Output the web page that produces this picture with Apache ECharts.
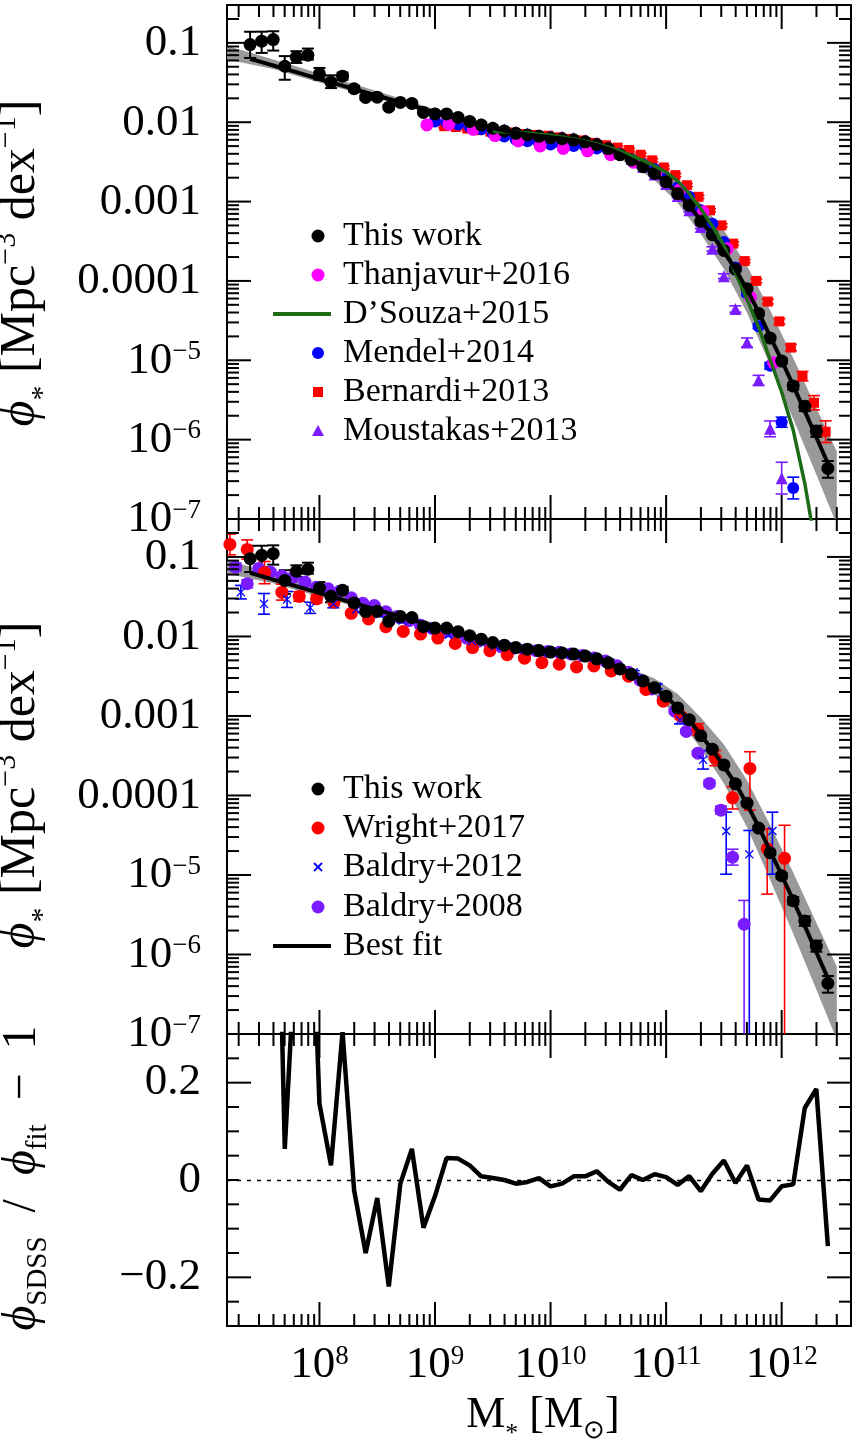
<!DOCTYPE html>
<html><head><meta charset="utf-8">
<script src="https://cdn.jsdelivr.net/npm/echarts@6.0.0/dist/echarts.min.js"></script>
<style>html,body{margin:0;padding:0;background:#fff}#c{width:854px;height:1441px}</style>
</head><body><div id="c"></div>
<script>
// ---------------- DATA (log10 values) ----------------
const binLogM = [7.4,7.5,7.6,7.7,7.8,7.9,8.0,8.1,8.2,8.3,8.4,8.5,8.6,8.7,8.8,8.9,9.0,9.1,9.2,9.3,9.4,9.5,9.6,9.7,9.8,9.9,10.0,10.1,10.2,10.3,10.4,10.5,10.6,10.7,10.8,10.9,11.0,11.1,11.2,11.3,11.4,11.5,11.6,11.7,11.8,11.9,12.0,12.1,12.2,12.3,12.4];
const thisWorkLogPhi = [-1.022,-0.979,-0.959,-1.295,-1.180,-1.155,-1.392,-1.495,-1.420,-1.578,-1.687,-1.684,-1.810,-1.750,-1.763,-1.877,-1.895,-1.895,-1.940,-1.990,-2.034,-2.076,-2.110,-2.140,-2.160,-2.178,-2.196,-2.208,-2.222,-2.247,-2.282,-2.332,-2.409,-2.476,-2.560,-2.645,-2.751,-2.899,-3.047,-3.249,-3.418,-3.616,-3.853,-4.097,-4.410,-4.720,-5.010,-5.325,-5.580,-5.895,-6.363];
const thisWorkErrUp = [0.162,0.120,0.105,0.128,0.075,0.083,0.076,0.086,0.045,0.035,0.030,0.025,0.025,0.020,0.020,0.018,0.015,0.012,0.012,0.012,0.012,0.012,0.012,0.012,0.012,0.012,0.012,0.012,0.012,0.012,0.012,0.012,0.012,0.012,0.012,0.012,0.012,0.012,0.012,0.012,0.012,0.015,0.018,0.020,0.025,0.030,0.035,0.045,0.060,0.070,0.093];
const thisWorkErrDn = [0.168,0.148,0.138,0.170,0.073,0.056,0.073,0.075,0.045,0.035,0.030,0.025,0.025,0.020,0.020,0.018,0.015,0.012,0.012,0.012,0.012,0.012,0.012,0.012,0.012,0.012,0.012,0.012,0.012,0.012,0.012,0.012,0.012,0.012,0.012,0.012,0.012,0.012,0.012,0.012,0.012,0.015,0.018,0.020,0.025,0.030,0.035,0.045,0.060,0.070,0.117];
const fitLogPhi = [-1.200,-1.243,-1.285,-1.327,-1.369,-1.412,-1.455,-1.497,-1.539,-1.581,-1.623,-1.665,-1.707,-1.749,-1.791,-1.833,-1.875,-1.915,-1.955,-1.995,-2.035,-2.072,-2.105,-2.133,-2.156,-2.175,-2.190,-2.205,-2.225,-2.252,-2.288,-2.335,-2.395,-2.470,-2.555,-2.650,-2.754,-2.895,-3.050,-3.239,-3.424,-3.633,-3.850,-4.110,-4.390,-4.700,-5.000,-5.320,-5.640,-5.970,-6.300];
const residual = [0.51,0.82,1.09,0.064,0.51,0.80,0.157,0.030,0.304,-0.021,-0.150,-0.037,-0.219,-0.0075,0.064,-0.098,-0.033,0.045,0.044,0.030,0.0075,0.004,0.0,-0.0075,-0.004,0.004,-0.013,-0.0075,0.0075,0.0075,0.018,-0.004,-0.020,0.010,0.0,0.012,0.006,-0.010,0.008,-0.023,0.013,0.040,-0.006,0.030,-0.040,-0.042,-0.013,-0.009,0.148,0.187,-0.136];

const bandLogM  = [7.2,7.6,8.0,8.5,9.0,9.5,10.0,10.4,10.7,10.9,11.1,11.3,11.5,11.7,11.9,12.1,12.3,12.477];
const bandUpper = [-1.035,-1.21,-1.385,-1.61,-1.835,-2.055,-2.17,-2.25,-2.41,-2.53,-2.725,-3.02,-3.36,-3.81,-4.37,-4.97,-5.60,-6.15];
const bandLower = [-1.21,-1.33,-1.50,-1.70,-1.905,-2.095,-2.22,-2.33,-2.54,-2.73,-3.015,-3.41,-3.85,-4.40,-5.06,-5.74,-6.44,-7.07];

const thanjavurLogM   = [8.93,9.12,9.33,9.52,9.72,9.91,10.11,10.32,10.52,10.72,10.91,11.12,11.32,11.53,11.73,11.93];
const thanjavurLogPhi = [-2.034,-2.025,-2.089,-2.168,-2.237,-2.30,-2.33,-2.36,-2.41,-2.506,-2.646,-2.85,-3.13,-3.595,-4.206,-5.03];

const dsouzaLogM   = [9.5,9.6,9.7,9.8,9.9,10.0,10.1,10.2,10.3,10.4,10.5,10.6,10.7,10.8,10.9,11.0,11.1,11.2,11.3,11.4,11.5,11.6,11.7,11.8,11.9,12.0,12.1,12.2,12.3];
const dsouzaLogPhi = [-2.115,-2.12,-2.125,-2.135,-2.15,-2.165,-2.185,-2.21,-2.24,-2.275,-2.315,-2.36,-2.42,-2.48,-2.55,-2.63,-2.74,-2.9,-3.09,-3.31,-3.55,-3.9,-4.23,-4.58,-4.99,-5.4,-5.88,-6.55,-7.4];

const mendelLogM   = [9.0,9.1,9.2,9.3,9.4,9.5,9.6,9.7,9.8,9.9,10.0,10.1,10.2,10.3,10.4,10.5,10.6,10.7,10.8,10.9,11.0,11.1,11.2,11.3,11.4,11.5,11.6,11.7,11.8,11.9,12.0,12.1];
const mendelLogPhi = [-1.99,-2.00,-2.03,-2.06,-2.09,-2.14,-2.18,-2.22,-2.24,-2.26,-2.28,-2.29,-2.30,-2.31,-2.33,-2.36,-2.41,-2.47,-2.53,-2.59,-2.70,-2.82,-2.94,-3.11,-3.28,-3.51,-3.83,-4.16,-4.57,-5.07,-5.78,-6.61];
const mendelErr    = [0.015,0.015,0.015,0.015,0.015,0.015,0.015,0.015,0.015,0.015,0.015,0.015,0.015,0.015,0.015,0.015,0.015,0.015,0.015,0.015,0.015,0.015,0.015,0.015,0.015,0.02,0.02,0.025,0.03,0.04,0.063,0.137];

const bernardiLogM   = [9.08,9.18,9.28,9.38,9.48,9.58,9.68,9.78,9.88,9.98,10.08,10.18,10.28,10.38,10.48,10.58,10.68,10.78,10.88,10.98,11.08,11.18,11.28,11.38,11.48,11.58,11.68,11.78,11.88,11.98,12.08,12.18,12.28,12.38];
const bernardiLogPhi = [-2.05,-2.06,-2.08,-2.10,-2.12,-2.12,-2.13,-2.15,-2.16,-2.17,-2.19,-2.21,-2.23,-2.26,-2.29,-2.32,-2.35,-2.41,-2.48,-2.57,-2.667,-2.794,-2.94,-3.11,-3.30,-3.53,-3.75,-4.00,-4.26,-4.51,-4.84,-5.20,-5.535,-5.90];
const bernardiErr    = [0.02,0.02,0.02,0.02,0.02,0.02,0.02,0.02,0.02,0.02,0.02,0.02,0.02,0.02,0.02,0.02,0.02,0.02,0.02,0.02,0.02,0.02,0.02,0.02,0.02,0.02,0.02,0.025,0.03,0.035,0.04,0.06,0.09,0.137];

const moustakasLogM   = [9.0,9.1,9.2,9.3,9.4,9.5,9.6,9.7,9.8,9.9,10.0,10.1,10.2,10.3,10.4,10.5,10.6,10.7,10.8,10.9,11.0,11.1,11.2,11.3,11.4,11.5,11.6,11.7,11.8,11.9,12.0];
const moustakasLogPhi = [-1.88,-1.90,-1.94,-1.98,-2.02,-2.06,-2.09,-2.12,-2.14,-2.16,-2.17,-2.18,-2.20,-2.224,-2.26,-2.31,-2.38,-2.46,-2.56,-2.66,-2.78,-2.93,-3.11,-3.32,-3.595,-3.94,-4.354,-4.776,-5.253,-5.864,-6.485];
const moustakasErr    = [0.02,0.02,0.02,0.02,0.02,0.02,0.02,0.02,0.02,0.02,0.02,0.02,0.02,0.02,0.02,0.02,0.02,0.02,0.02,0.02,0.02,0.02,0.02,0.02,0.025,0.03,0.04,0.057,0.063,0.10,0.20];

const wrightLogM   = [7.225,7.375,7.525,7.675,7.825,7.975,8.125,8.275,8.425,8.575,8.725,8.875,9.025,9.175,9.325,9.475,9.625,9.775,9.925,10.075,10.225,10.375,10.525,10.675,10.825,10.975,11.125,11.275,11.425,11.575,11.725,11.875,12.025];
const wrightLogPhi = [-0.843,-0.906,-1.197,-1.443,-1.497,-1.527,-1.57,-1.709,-1.78,-1.877,-1.937,-1.97,-2.02,-2.089,-2.14,-2.18,-2.23,-2.273,-2.33,-2.35,-2.384,-2.371,-2.434,-2.5,-2.666,-2.814,-3.0,-3.17,-3.53,-4.03,-3.66,-4.67,-4.79];
const wrightErrUp  = [0.13,0.12,0.14,0.10,0.06,0.05,0.04,0.025,0.025,0.025,0.025,0.025,0.025,0.025,0.025,0.025,0.025,0.025,0.025,0.025,0.025,0.025,0.025,0.025,0.025,0.025,0.04,0.074,0.095,0.14,0.21,0.25,0.415];
const wrightErrDn  = [0.13,0.12,0.14,0.10,0.06,0.05,0.04,0.025,0.025,0.025,0.025,0.025,0.025,0.025,0.025,0.025,0.025,0.025,0.025,0.025,0.025,0.025,0.025,0.025,0.025,0.025,0.04,0.074,0.095,0.14,0.525,0.57,4.0];

const baldry12LogM   = [7.32,7.52,7.72,7.92,8.12,8.32,8.52,8.72,8.92,9.12,9.32,9.52,9.72,9.92,10.12,10.32,10.52,10.72,10.92,11.12,11.32,11.52,11.72,11.92];
const baldry12LogPhi = [-1.443,-1.59,-1.535,-1.64,-1.59,-1.66,-1.72,-1.80,-1.90,-1.98,-2.06,-2.12,-2.17,-2.20,-2.22,-2.27,-2.33,-2.45,-2.63,-3.05,-3.552,-4.447,-4.74,-4.447];
const baldry12ErrUp  = [0.085,0.13,0.10,0.07,0.05,0.04,0.03,0.03,0.02,0.02,0.02,0.02,0.02,0.02,0.02,0.02,0.02,0.02,0.03,0.05,0.116,0.237,0.30,0.237];
const baldry12ErrDn  = [0.085,0.13,0.10,0.07,0.05,0.04,0.03,0.03,0.02,0.02,0.02,0.02,0.02,0.02,0.02,0.02,0.02,0.02,0.03,0.05,0.116,0.543,4.0,0.543];

const baldry08LogM   = [7.275,7.375,7.475,7.575,7.675,7.775,7.875,7.975,8.075,8.175,8.275,8.375,8.475,8.575,8.675,8.775,8.875,8.975,9.075,9.175,9.275,9.375,9.475,9.575,9.675,9.775,9.875,9.975,10.075,10.175,10.275,10.375,10.475,10.575,10.675,10.775,10.875,10.975,11.075,11.175,11.275,11.375,11.475,11.575,11.675];
const baldry08LogPhi = [-1.127,-1.337,-1.147,-1.19,-1.24,-1.253,-1.316,-1.38,-1.40,-1.43,-1.514,-1.582,-1.611,-1.69,-1.75,-1.80,-1.86,-1.90,-1.94,-1.98,-2.02,-2.06,-2.10,-2.13,-2.15,-2.17,-2.18,-2.19,-2.20,-2.22,-2.24,-2.27,-2.31,-2.37,-2.45,-2.55,-2.66,-2.79,-2.94,-3.194,-3.468,-3.848,-4.185,-4.776,-5.62];
const baldry08ErrUp  = [0.05,0.05,0.03,0.03,0.03,0.03,0.03,0.03,0.02,0.02,0.02,0.02,0.02,0.02,0.02,0.02,0.02,0.02,0.02,0.02,0.02,0.02,0.02,0.02,0.02,0.02,0.02,0.02,0.02,0.02,0.02,0.02,0.02,0.02,0.02,0.02,0.02,0.02,0.02,0.025,0.03,0.04,0.05,0.10,0.30];
const baldry08ErrDn  = [0.05,0.05,0.03,0.03,0.03,0.03,0.03,0.03,0.02,0.02,0.02,0.02,0.02,0.02,0.02,0.02,0.02,0.02,0.02,0.02,0.02,0.02,0.02,0.02,0.02,0.02,0.02,0.02,0.02,0.02,0.02,0.02,0.02,0.02,0.02,0.02,0.02,0.02,0.02,0.025,0.03,0.04,0.05,0.10,4.0];

// tick label texts
const xMajorExps = [8,9,10,11,12];
const yPlainLabels = {'-1':'0.1','-2':'0.01','-3':'0.001','-4':'0.0001'};
const resLabels = {'0.2':'0.2','0':'0','-0.2':'\u22120.2'};

// legend texts
const legendTop = ['This work','Thanjavur+2016','D\u2019Souza+2015','Mendel+2014','Bernardi+2013','Moustakas+2013'];
const legendMid = ['This work','Wright+2017','Baldry+2012','Baldry+2008','Best fit'];

// ---------------- SETUP ----------------
const P = v => Math.pow(10, v);
const XMIN = P(7.2), XMAX = P(12.6), YMIN = 1e-7, YMAX = 0.3;
const FONT = 'Liberation Serif';
const C = {black:'#000000', magenta:'#ff00ff', green:'#1d6b17', blue:'#0000ff', red:'#ff0000', purple:'#7a1cff', grey:'#999999'};

const pts = (m, p) => m.map((v,i)=>[P(v), P(p[i])]);
const errPts = (m, p, up, dn) => m.map((v,i)=>[P(v), P(p[i]), P(p[i]-dn[i]), P(p[i]+up[i])]);
const bandData = bandLogM.map((m,i)=>[P(m), P(bandLower[i]), P(bandUpper[i])]);

const labelRich = {
  b: {fontFamily: FONT, fontSize: 45, lineHeight: 46, verticalAlign: 'bottom', color: '#000'},
  s: {fontFamily: FONT, fontSize: 27, lineHeight: 28, verticalAlign: 'bottom', padding: [0,0,18,0], color: '#000'}
};
function isInt(e){ return Math.abs(e - Math.round(e)) < 1e-6; }
function xFmt(v){ const e = Math.log10(v); if (!isInt(e)) return ''; const r = Math.round(e); if (xMajorExps.indexOf(r) < 0) return ''; return '{b|10}{s|' + r + '}'; }
function yFmt(v){ const e = Math.log10(v); if (!isInt(e)) return ''; const r = Math.round(e); if (yPlainLabels[r]) return '{b|' + yPlainLabels[r] + '}'; return '{b|10}{s|\u2212' + (-r) + '}'; }
function resFmt(v){ const r = (Math.round(v*10)/10).toString(); return resLabels[r] !== undefined ? resLabels[r] : ''; }

const axLine = {show:true, onZero:false, lineStyle:{color:'#000', width:2}};
function xAx(gi, pos, lab){
  return {type:'log', logBase:10, gridIndex:gi, position:pos, min:XMIN, max:XMAX,
    axisLine:axLine, axisTick:{show:false}, minorTick:{show:false}, splitLine:{show:false},
    axisLabel: lab ? {show:true, margin:16, formatter:xFmt, rich:labelRich, showMinLabel:true, showMaxLabel:true, hideOverlap:false} : {show:false}};
}
function yLog(gi, pos, lab){
  return {type:'log', logBase:10, gridIndex:gi, position:pos, min:YMIN, max:YMAX,
    axisLine:axLine, axisTick:{show:false}, minorTick:{show:false}, splitLine:{show:false},
    axisLabel: lab ? {show:true, margin:26, formatter:yFmt, rich:labelRich, showMinLabel:true, showMaxLabel:true, hideOverlap:false} : {show:false}};
}
function yRes(pos, lab){
  return {type:'value', gridIndex:2, position:pos, min:-0.3, max:0.3, interval:0.1,
    axisLine:axLine, axisTick:{show:false}, splitLine:{show:false},
    axisLabel: lab ? {show:true, margin:26, formatter:resFmt, fontFamily:FONT, fontSize:45, color:'#000', showMinLabel:true, showMaxLabel:true, hideOverlap:false} : {show:false}};
}

// tick positions (axis decoration)
const xTicks = []; for (let e=7;e<=12;e++) for (let k=1;k<=9;k++){ const v=k*P(e); if (v>XMIN*1.001 && v<XMAX*0.999) xTicks.push([v, k===1?1:0]); }
const yTicks = []; for (let e=-7;e<=-1;e++) for (let k=1;k<=9;k++){ const v=k*P(e); if (v>YMIN*1.001 && v<YMAX*0.999) yTicks.push([v, k===1?1:0]); }
const rTicks = []; for (let i=-5;i<=5;i++){ const v=i*0.05; rTicks.push([v, (i===4||i===-4)?1:0]); }

const tickStyle = {stroke:'#000', lineWidth:2};
function xTickSeries(xi, yi, yLo, yHi, yDummy){
  return {type:'custom', xAxisIndex:xi, yAxisIndex:yi, silent:true, z:20, clip:false, animation:false,
    data: xTicks.map(t=>[t[0], yDummy, t[1]]),
    renderItem:(params, api)=>{
      const v=api.value(0), L=api.value(2)?24:12;
      const b=api.coord([v,yLo]), t=api.coord([v,yHi]);
      return {type:'group', children:[
        {type:'line', shape:{x1:b[0],y1:b[1],x2:b[0],y2:b[1]-L}, style:tickStyle},
        {type:'line', shape:{x1:t[0],y1:t[1],x2:t[0],y2:t[1]+L}, style:tickStyle}]};
    }};
}
function yTickSeries(xi, yi, ticks){
  return {type:'custom', xAxisIndex:xi, yAxisIndex:yi, silent:true, z:20, clip:false, animation:false,
    data: ticks.map(t=>[P(10), t[0], t[1]]),
    renderItem:(params, api)=>{
      const v=api.value(1), L=api.value(2)?24:12;
      const l=api.coord([XMIN,v]), r=api.coord([XMAX,v]);
      return {type:'group', children:[
        {type:'line', shape:{x1:l[0],y1:l[1],x2:l[0]+L,y2:l[1]}, style:tickStyle},
        {type:'line', shape:{x1:r[0],y1:r[1],x2:r[0]-L,y2:r[1]}, style:tickStyle}]};
    }};
}
function bandSeries(xi, yi){
  return {type:'custom', xAxisIndex:xi, yAxisIndex:yi, silent:true, clip:true, z:1, data: bandData,
    renderItem:(params, api)=>{
      if (params.dataIndex !== 0) return null;
      const up = bandData.map(d=>api.coord([d[0], d[2]]));
      const lo = bandData.map(d=>api.coord([d[0], d[1]])).reverse();
      return {type:'polygon', shape:{points: up.concat(lo)}, style:{fill:C.grey}};
    }};
}
function errSeries(xi, yi, data, color, capW, lw){
  return {type:'custom', xAxisIndex:xi, yAxisIndex:yi, silent:true, clip:true, data,
    renderItem:(params, api)=>{
      const x=api.value(0), lo=api.value(2), hi=api.value(3);
      const a=api.coord([x,hi]), b=api.coord([x,lo]);
      const st={stroke:color, lineWidth:lw};
      return {type:'group', children:[
        {type:'line', shape:{x1:a[0],y1:a[1],x2:b[0],y2:b[1]}, style:st},
        {type:'line', shape:{x1:a[0]-capW,y1:a[1],x2:a[0]+capW,y2:a[1]}, style:st},
        {type:'line', shape:{x1:b[0]-capW,y1:b[1],x2:b[0]+capW,y2:b[1]}, style:st}]};
    }};
}
function scat(xi, yi, data, symbol, size, color){
  return {type:'scatter', xAxisIndex:xi, yAxisIndex:yi, data, symbol, symbolSize:size, silent:true,
    itemStyle:{color, opacity:1}, emphasis:{disabled:true}};
}
function line(xi, yi, data, color, w){
  return {type:'line', xAxisIndex:xi, yAxisIndex:yi, data, showSymbol:false, symbol:'none', silent:true, clip:true,
    lineStyle:{color, width:w}, itemStyle:{color}};
}
const XSYM = 'path://M1,0 L5,4 L9,0 L10,1 L6,5 L10,9 L9,10 L5,6 L1,10 L0,9 L4,5 L0,1 Z';

const thisWorkPts = pts(binLogM, thisWorkLogPhi);
const thisWorkErr = errPts(binLogM, thisWorkLogPhi, thisWorkErrUp, thisWorkErrDn);
const fitPts = pts(binLogM, fitLogPhi);

const series = [
  // ---- top panel ----
  bandSeries(0,0),
  errSeries(0,0, errPts(bernardiLogM, bernardiLogPhi, bernardiErr, bernardiErr), C.red, 6, 1.6),
  scat(0,0, pts(bernardiLogM, bernardiLogPhi), 'rect', 10, C.red),
  errSeries(0,0, errPts(mendelLogM, mendelLogPhi, mendelErr, mendelErr), C.blue, 6, 1.6),
  scat(0,0, pts(mendelLogM, mendelLogPhi), 'circle', 12, C.blue),
  errSeries(0,0, errPts(moustakasLogM, moustakasLogPhi, moustakasErr, moustakasErr), C.purple, 6, 1.6),
  scat(0,0, pts(moustakasLogM, moustakasLogPhi), 'triangle', 12, C.purple),
  scat(0,0, pts(thanjavurLogM, thanjavurLogPhi), 'circle', 13, C.magenta),
  line(0,0, pts(dsouzaLogM, dsouzaLogPhi), C.green, 3.5),
  line(0,0, fitPts, C.black, 4),
  errSeries(0,0, thisWorkErr, C.black, 6, 2),
  scat(0,0, thisWorkPts, 'circle', 13, C.black),
  xTickSeries(0,0, YMIN, YMAX, 1e-3),
  yTickSeries(0,0, yTicks),
  // ---- middle panel ----
  bandSeries(2,2),
  errSeries(2,2, errPts(baldry08LogM, baldry08LogPhi, baldry08ErrUp, baldry08ErrDn), C.purple, 6, 1.6),
  scat(2,2, pts(baldry08LogM, baldry08LogPhi), 'circle', 13, C.purple),
  errSeries(2,2, errPts(wrightLogM, wrightLogPhi, wrightErrUp, wrightErrDn), C.red, 6, 1.6),
  scat(2,2, pts(wrightLogM, wrightLogPhi), 'circle', 13, C.red),
  errSeries(2,2, errPts(baldry12LogM, baldry12LogPhi, baldry12ErrUp, baldry12ErrDn), C.blue, 6, 1.6),
  scat(2,2, pts(baldry12LogM, baldry12LogPhi), XSYM, 9, C.blue),
  line(2,2, fitPts, C.black, 4),
  errSeries(2,2, thisWorkErr, C.black, 6, 2),
  scat(2,2, thisWorkPts, 'circle', 13, C.black),
  xTickSeries(2,2, YMIN, YMAX, 1e-3),
  yTickSeries(2,2, yTicks),
  // ---- residual panel ----
  Object.assign(line(4,4, binLogM.map((m,i)=>[P(m), residual[i]]), C.black, 4.5), {
    markLine:{silent:true, symbol:'none', label:{show:false}, animation:false,
      lineStyle:{color:'#000', type:[4,6], width:1.4}, data:[{yAxis:0}]}}),
  xTickSeries(4,4, -0.3, 0.3, 0),
  yTickSeries(4,4, rTicks)
];

// ---------------- TITLES & LEGENDS (graphic) ----------------
function titleRich(F){
  const s = Math.round(F*0.6);
  return {
    n:{fontFamily:FONT, fontSize:F, lineHeight:F+4, verticalAlign:'bottom', padding:[0,0,Math.round(F*0.28),0]},
    p:{fontFamily:FONT, fontSize:F, fontStyle:'italic', lineHeight:F+4, verticalAlign:'bottom', padding:[0,0,Math.round(F*0.28),0]},
    st:{fontFamily:FONT, fontSize:s, lineHeight:s+2, verticalAlign:'bottom', padding:[0,0,2,0]},
    ss:{fontFamily:FONT, fontSize:s, lineHeight:s+2, verticalAlign:'bottom', padding:[0,0,Math.round(F*0.12),0]},
    sp:{fontFamily:FONT, fontSize:s, lineHeight:s+2, verticalAlign:'bottom', padding:[0,0,Math.round(F*0.76),0]}
  };
}
const yTitle = '{p|\u03d5}{st|*}{n| [Mpc}{sp|\u22123}{n| dex}{sp|\u22121}{n|]}';
const resTitle = '{p|\u03d5}{ss|SDSS}{n|  /  }{p|\u03d5}{ss|fit}{n|  \u2212  1}';
const xTitle = '{n|M}{st|*}{n| [M}{ss|\u2299}{n|]}';

const graphic = [
  {type:'text', x:33, y:263, rotation:Math.PI/2, silent:true, style:{text:yTitle, rich:titleRich(50), align:'center', verticalAlign:'middle', fill:'#000'}},
  {type:'text', x:33, y:785, rotation:Math.PI/2, silent:true, style:{text:yTitle, rich:titleRich(50), align:'center', verticalAlign:'middle', fill:'#000'}},
  {type:'text', x:33, y:1178, rotation:Math.PI/2, silent:true, style:{text:resTitle, rich:titleRich(48), align:'center', verticalAlign:'middle', fill:'#000'}},
  {type:'text', x:543, y:1425, silent:true, style:{text:xTitle, rich:titleRich(44), align:'center', verticalAlign:'middle', fill:'#000'}}
];
const legFont = {fontFamily:FONT, fontSize:34};
const topRows = [236,275,314,353,392,431];
const midRows = [789,828,867,907,946];
const SX = 318, TX = 343;
legendTop.forEach((t,i)=>graphic.push({type:'text', x:TX, y:topRows[i], silent:true, style:Object.assign({text:t, verticalAlign:'middle', align:'left', fill:'#000'}, legFont)}));
legendMid.forEach((t,i)=>graphic.push({type:'text', x:TX, y:midRows[i], silent:true, style:Object.assign({text:t, verticalAlign:'middle', align:'left', fill:'#000'}, legFont)}));
graphic.push(
  {type:'circle', silent:true, shape:{cx:SX, cy:topRows[0], r:6.5}, style:{fill:C.black}},
  {type:'circle', silent:true, shape:{cx:SX, cy:topRows[1], r:6.5}, style:{fill:C.magenta}},
  {type:'line', silent:true, shape:{x1:273, y1:topRows[2], x2:331, y2:topRows[2]}, style:{stroke:C.green, lineWidth:4}},
  {type:'circle', silent:true, shape:{cx:SX, cy:topRows[3], r:6}, style:{fill:C.blue}},
  {type:'rect', silent:true, shape:{x:SX-5, y:topRows[4]-5, width:10, height:10}, style:{fill:C.red}},
  {type:'polygon', silent:true, shape:{points:[[SX,topRows[5]-6],[SX+6,topRows[5]+5],[SX-6,topRows[5]+5]]}, style:{fill:C.purple}},
  {type:'circle', silent:true, shape:{cx:SX, cy:midRows[0], r:6.5}, style:{fill:C.black}},
  {type:'circle', silent:true, shape:{cx:SX, cy:midRows[1], r:6.5}, style:{fill:C.red}},
  {type:'polyline', silent:true, shape:{points:[[SX-4,midRows[2]-4],[SX+4,midRows[2]+4]]}, style:{stroke:C.blue, lineWidth:1.8}},
  {type:'polyline', silent:true, shape:{points:[[SX+4,midRows[2]-4],[SX-4,midRows[2]+4]]}, style:{stroke:C.blue, lineWidth:1.8}},
  {type:'circle', silent:true, shape:{cx:SX, cy:midRows[3], r:6.5}, style:{fill:C.purple}},
  {type:'line', silent:true, shape:{x1:273, y1:midRows[4], x2:331, y2:midRows[4]}, style:{stroke:C.black, lineWidth:4}}
);

const option = {
  animation:false,
  backgroundColor:'#ffffff',
  grid:[
    {left:227, top:5, width:624, height:514},
    {left:227, top:519, width:624, height:515},
    {left:227, top:1034, width:624, height:292}
  ],
  xAxis:[xAx(0,'bottom',false), xAx(0,'top',false), xAx(1,'bottom',false), xAx(1,'top',false), xAx(2,'bottom',true), xAx(2,'top',false)],
  yAxis:[yLog(0,'left',true), yLog(0,'right',false), yLog(1,'left',true), yLog(1,'right',false), yRes('left',true), yRes('right',false)],
  series,
  graphic
};
const chart = echarts.init(document.getElementById('c'), null, {renderer:'canvas', width:854, height:1441});
chart.setOption(option);
</script></body></html>
